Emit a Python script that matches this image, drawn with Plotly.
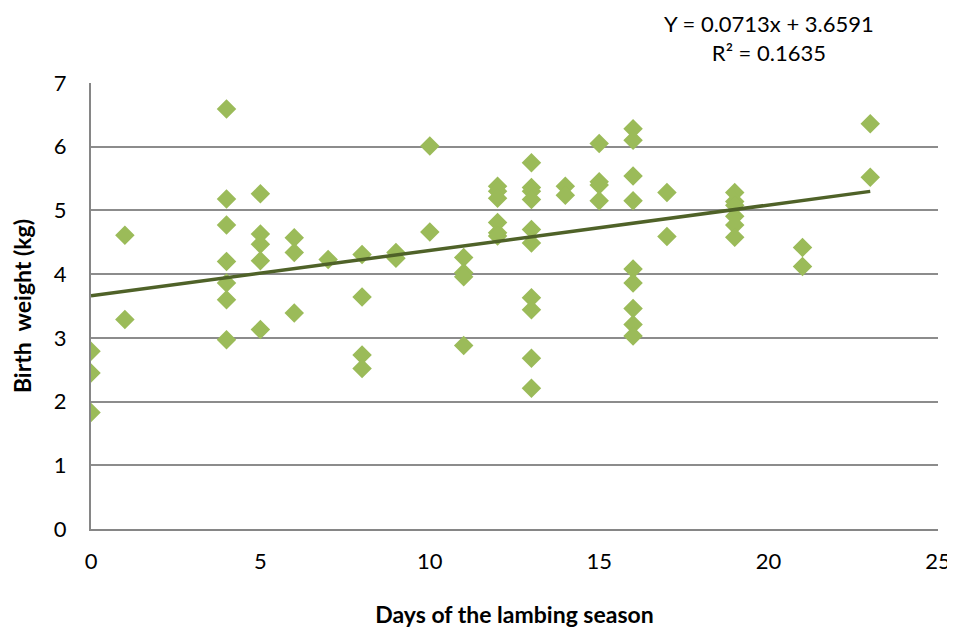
import plotly.graph_objects as go

# Days of the lambing season (x) and birth weight in kg (y)
days = [0, 0, 0,
        1, 1,
        4, 4, 4, 4, 4, 4, 4,
        5, 5, 5, 5, 5,
        6, 6, 6,
        7,
        8, 8, 8, 8,
        9, 9,
        10, 10,
        11, 11, 11, 11,
        12, 12, 12, 12, 12, 12,
        13, 13, 13, 13, 13, 13, 13, 13, 13, 13,
        14, 14,
        15, 15, 15, 15,
        16, 16, 16, 16, 16, 16, 16, 16, 16,
        17, 17,
        19, 19, 19, 19, 19, 19,
        21, 21,
        23, 23]
weights = [2.79, 2.45, 1.83,
           4.61, 3.29,
           6.59, 5.18, 4.77, 4.20, 3.86, 3.60, 2.97,
           5.26, 4.63, 4.47, 4.21, 3.13,
           4.57, 4.34, 3.39,
           4.23,
           4.31, 3.64, 2.73, 2.52,
           4.34, 4.25,
           6.01, 4.66,
           4.26, 4.02, 3.96, 2.88,
           5.38, 5.30, 5.19, 4.81, 4.65, 4.60,
           5.75, 5.36, 5.30, 5.17, 4.70, 4.49, 3.63, 3.44, 2.68, 2.21,
           5.38, 5.24,
           6.05, 5.45, 5.40, 5.15,
           6.28, 6.10, 5.54, 5.15, 4.08, 3.86, 3.46, 3.21, 3.03,
           5.28, 4.59,
           5.28, 5.14, 5.08, 4.91, 4.77, 4.58,
           4.42, 4.12,
           6.36, 5.52]

slope = 0.0713
intercept = 3.6591
r_squared = 0.1635
trend_x = [min(days), max(days)]
trend_y = [slope * x + intercept for x in trend_x]

x_ticks = [0, 5, 10, 15, 20, 25]
y_ticks = [0, 1, 2, 3, 4, 5, 6, 7]

FONT = "Lato, 'Open Sans', sans-serif"

fig = go.Figure()
fig.add_trace(go.Scatter(
    x=days, y=weights, mode="markers",
    marker=dict(symbol="diamond", size=15, color="#9BBB59",
                line=dict(width=0)),
    showlegend=False, hoverinfo="x+y"))
fig.add_trace(go.Scatter(
    x=trend_x, y=trend_y, mode="lines",
    line=dict(color="#4F6228", width=3.5),
    showlegend=False))

fig.add_annotation(
    x=0.8, y=1.0, xref="paper", yref="paper",
    xanchor="center", yanchor="bottom", yshift=15,
    text=f"Y = {slope}x + {intercept}<br>R² = {r_squared}",
    showarrow=False, align="center",
    font=dict(family=FONT, size=22, color="#000000"))

fig.update_layout(
    width=947, height=620,
    margin=dict(l=83, r=17, t=75, b=99),
    paper_bgcolor="white", plot_bgcolor="white",
    font=dict(family=FONT, size=22, color="#000000"),
)
fig.update_xaxes(
    range=[0, 25], tickvals=x_ticks, showgrid=False, zeroline=False,
    showline=True, linecolor="#868686", linewidth=2,
    ticks="", ticklabelstandoff=12, automargin=False,
    title=dict(text="<b>Days of the lambing season</b>",
               font=dict(family=FONT, size=23), standoff=40))
fig.update_yaxes(
    range=[0, 7], tickvals=y_ticks, showgrid=True, gridcolor="#8C8C8C",
    gridwidth=1.5, zeroline=False,
    showline=True, linecolor="#868686", linewidth=2,
    ticks="", ticklabelstandoff=18, automargin=False,
    title=dict(text="<b>Birth  weight (kg)</b>",
               font=dict(family=FONT, size=23), standoff=16))

fig.write_html("out.html")
